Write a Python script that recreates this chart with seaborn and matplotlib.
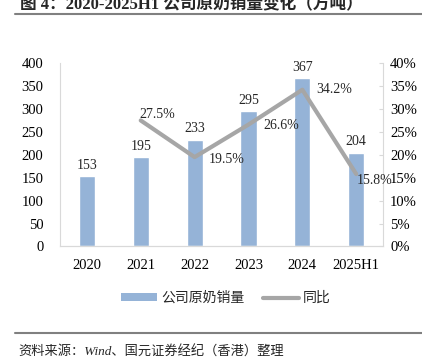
import numpy as np
import pandas as pd
import matplotlib
matplotlib.use("Agg")
import matplotlib.pyplot as plt
import seaborn as sns
from matplotlib.patches import Patch
from matplotlib.lines import Line2D

years = ["2020", "2021", "2022", "2023", "2024", "2025H1"]
sales = [153, 195, 233, 295, 367, 204]
yoy = [np.nan, 27.5, 19.5, 26.6, 34.2, 15.8]

sns.set_style("white")
plt.rcParams['font.family'] = ['Liberation Serif', 'Noto Sans CJK SC']
plt.rcParams['axes.unicode_minus'] = False

bar_color = "#95B3D7"
line_color = "#A6A6A6"
spine_color = "#D9D9D9"

df = pd.DataFrame({"year": years, "sales": sales, "yoy": yoy})

fig = plt.figure(figsize=(4.22, 3.63), dpi=100)
ax = fig.add_axes([0.142, 0.321, 0.766, 0.505])
sns.barplot(data=df, x="year", y="sales", color=bar_color, width=0.3,
            saturation=1, ax=ax)
ax.set_ylim(0, 400)
ax.set_yticks(range(0, 401, 50))
ax.set_xlabel("")
ax.set_ylabel("")
for i, v in enumerate(sales):
    ax.text(i, v + 10, f"{v}", ha="center", va="bottom", fontsize=10)

ax2 = ax.twinx()
sns.lineplot(data=df.dropna(), x="year", y="yoy", color=line_color,
             linewidth=3, ax=ax2)
ax2.set_ylim(0, 40)
ax2.set_yticks(range(0, 41, 5))
ax2.set_yticklabels([f"{t}%" for t in range(0, 41, 5)])
ax2.set_ylabel("")

# label offsets (x in categories, y in %)
offsets = {1: (-0.02, 1.3), 2: (0.27, -0.6), 3: (0.28, -0.3),
           4: (0.26, 0.0), 5: (0.0, -1.3)}
for i, v in enumerate(yoy):
    if np.isnan(v):
        continue
    dx, dy = offsets[i]
    ax2.text(i + dx, v + dy, f"{v}%", ha="left", va="center", fontsize=10)

for a in (ax, ax2):
    a.spines["top"].set_visible(False)
    for s in ["left", "right", "bottom"]:
        a.spines[s].set_color(spine_color)
    a.tick_params(labelsize=10.5, colors="black", length=0)
ax2.spines["left"].set_visible(False)
ax.spines["right"].set_visible(False)
ax.tick_params(axis="y", pad=12)
ax2.tick_params(axis="y", length=3, direction="in", color=spine_color, pad=5)
ax.set_xlim(-0.5, 5.5)
ax.set_xticks(np.arange(0.5, 5.5, 1), minor=True)
ax.tick_params(axis="x", which="minor", length=3, direction="in",
               color=spine_color)
ax.tick_params(axis="x", which="major", pad=9)

handles = [Patch(facecolor=bar_color, edgecolor="none"),
           Line2D([0], [0], color=line_color, linewidth=3)]
fig.legend(handles, ["公司原奶销量", "同比"], loc="center", ncol=2,
           bbox_to_anchor=(0.535, 0.178), frameon=False, fontsize=10,
           handlelength=2.6, handleheight=0.5, columnspacing=1.3,
           handletextpad=0.3)

fig.text(0.047, 0.987, "图 4：2020-2025H1 公司原奶销量变化（万吨）",
         fontsize=12, fontweight="bold", ha="left", va="center")
fig.add_artist(Line2D([0.035, 1.0], [0.962, 0.962], color="#808080",
                      linewidth=1.5, transform=fig.transFigure))
fig.add_artist(Line2D([0.035, 1.0], [0.083, 0.083], color="#808080",
                      linewidth=1.5, transform=fig.transFigure))
fig.text(0.043, 0.03, "资料来源：Wind、国元证券经纪（香港）整理",
         fontsize=9.5, style="italic", ha="left", va="center")

fig.savefig("out.png", dpi=100)
